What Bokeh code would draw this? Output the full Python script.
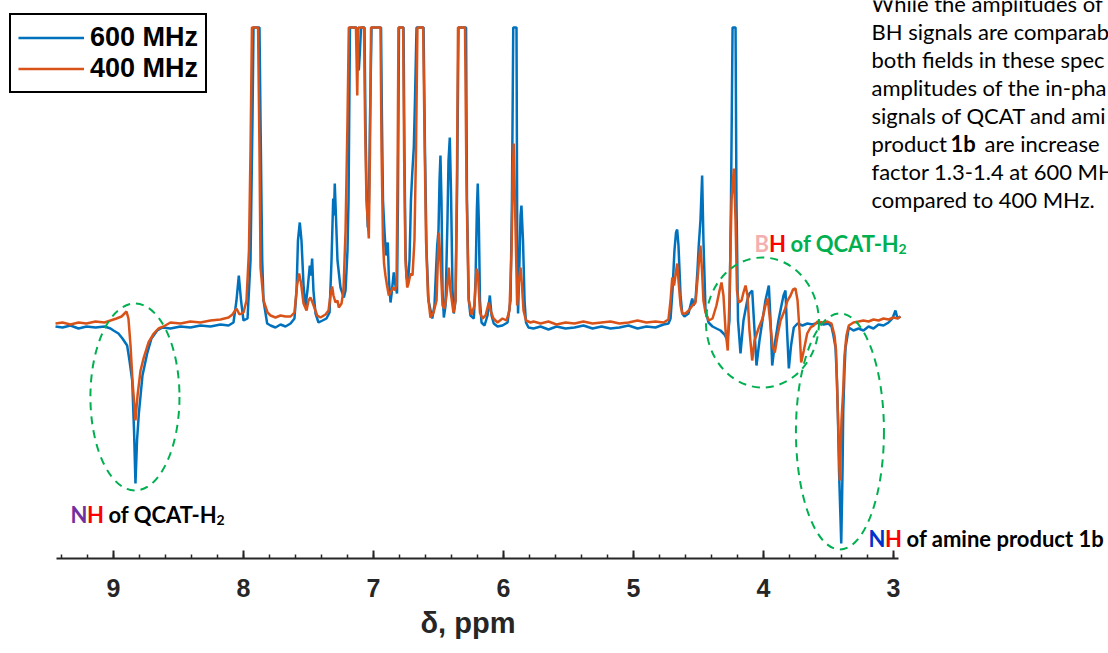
from bokeh.plotting import figure
from bokeh.models import Range1d, FixedTicker, Label, Legend, LegendItem, LinearAxis, Title
from bokeh.embed import file_html
from bokeh.resources import INLINE

# ---------------- data ----------------
# chemical shift (ppm) and intensity (a.u.) of the 600 MHz spectrum
ppm_600 = [9.446, 9.392, 9.331, 9.269, 9.208, 9.138, 9.069, 9.023, 9.000, 8.962, 8.931, 8.895, 8.877, 8.856,
           8.842, 8.831, 8.819, 8.805, 8.777, 8.741, 8.708, 8.664, 8.623, 8.562, 8.485, 8.408, 8.331, 8.254,
           8.177, 8.115, 8.077, 8.054, 8.036, 8.019, 8.000, 7.969, 7.946, 7.931, 7.923, 7.877, 7.869, 7.856,
           7.846, 7.818, 7.792, 7.754, 7.715, 7.677, 7.638, 7.608, 7.592, 7.581, 7.567, 7.554, 7.538, 7.523,
           7.508, 7.490, 7.481, 7.472, 7.462, 7.446, 7.423, 7.392, 7.362, 7.338, 7.323, 7.310, 7.304, 7.298,
           7.285, 7.277, 7.254, 7.228, 7.215, 7.200, 7.192, 7.181, 7.131, 7.119, 7.113, 7.104, 7.096, 7.069,
           7.062, 7.054, 7.044, 7.035, 7.027, 7.015, 6.942, 6.935, 6.927, 6.915, 6.904, 6.890, 6.881, 6.869,
           6.858, 6.844, 6.831, 6.819, 6.812, 6.804, 6.769, 6.762, 6.754, 6.746, 6.735, 6.723, 6.712, 6.702,
           6.696, 6.690, 6.681, 6.669, 6.615, 6.604, 6.592, 6.577, 6.548, 6.531, 6.519, 6.510, 6.500, 6.492,
           6.485, 6.477, 6.469, 6.459, 6.446, 6.431, 6.423, 6.413, 6.404, 6.392, 6.382, 6.369, 6.358, 6.346,
           6.288, 6.281, 6.267, 6.254, 6.228, 6.215, 6.205, 6.198, 6.190, 6.181, 6.169, 6.146, 6.123, 6.105,
           6.092, 6.075, 6.046, 6.008, 5.969, 5.946, 5.935, 5.925, 5.900, 5.894, 5.888, 5.877, 5.869, 5.862,
           5.850, 5.838, 5.827, 5.808, 5.769, 5.715, 5.654, 5.592, 5.523, 5.454, 5.385, 5.315, 5.246, 5.177,
           5.108, 5.038, 4.969, 4.900, 4.831, 4.769, 4.731, 4.715, 4.700, 4.685, 4.673, 4.664, 4.654, 4.638,
           4.625, 4.608, 4.577, 4.562, 4.548, 4.538, 4.523, 4.508, 4.498, 4.485, 4.472, 4.462, 4.446, 4.423,
           4.392, 4.362, 4.331, 4.300, 4.277, 4.262, 4.250, 4.238, 4.215, 4.208, 4.196, 4.177, 4.154, 4.125,
           4.108, 4.087, 4.069, 4.054, 4.031, 4.008, 3.985, 3.959, 3.946, 3.933, 3.915, 3.885, 3.862, 3.846,
           3.831, 3.819, 3.805, 3.788, 3.767, 3.738, 3.700, 3.662, 3.623, 3.577, 3.538, 3.500, 3.477, 3.462,
           3.446, 3.435, 3.428, 3.419, 3.402, 3.392, 3.387, 3.377, 3.369, 3.344, 3.308, 3.269, 3.231, 3.192,
           3.154, 3.115, 3.077, 3.038, 3.008, 2.985, 2.969, 2.946]
int_600 = [-0.01, -0.02, 0.00, -0.03, -0.01, -0.02, -0.01, -0.03, -0.05, -0.08, -0.13, -0.20, -0.35, -0.55,
           -1.05, -1.58, -1.15, -0.88, -0.50, -0.28, -0.13, -0.05, -0.02, -0.03, -0.01, -0.02, 0.00, -0.01,
           0.01, 0.00, 0.03, 0.25, 0.50, 0.25, 0.05, 0.07, 0.65, 2.05, 2.98, 2.98, 2.05, 0.65,
           0.25, 0.02, 0.00, -0.02, 0.01, -0.01, 0.02, 0.07, 0.35, 0.85, 1.03, 0.85, 0.40, 0.19,
           0.35, 0.60, 0.50, 0.67, 0.35, 0.12, 0.03, 0.05, 0.07, 0.13, 0.65, 1.27, 1.10, 1.42,
           0.95, 0.65, 0.38, 0.28, 0.35, 0.75, 1.25, 2.98, 2.98, 2.75, 2.55, 2.75, 2.98, 2.98,
           2.05, 1.35, 0.98, 1.25, 2.05, 2.98, 2.98, 2.05, 1.25, 0.93, 0.70, 0.83, 0.45, 0.23,
           0.35, 0.53, 0.40, 0.32, 1.25, 2.98, 2.98, 1.75, 0.75, 0.48, 0.43, 0.65, 1.25, 1.52,
           1.65, 1.78, 2.25, 2.98, 2.98, 1.75, 0.75, 0.25, 0.07, 0.20, 0.55, 0.80, 0.95, 1.45,
           1.70, 1.25, 0.35, 0.08, 0.20, 1.05, 1.65, 1.88, 1.35, 0.35, 0.12, 0.25, 1.25, 2.98,
           2.98, 1.25, 0.25, 0.10, 0.07, 0.45, 1.15, 1.42, 1.05, 0.25, 0.03, 0.00, 0.10, 0.30,
           0.10, 0.02, -0.01, 0.00, 0.03, 0.25, 1.25, 2.98, 2.98, 0.75, 0.12, 0.65, 1.10, 1.20,
           0.85, 0.25, 0.03, -0.02, -0.03, -0.01, -0.04, -0.01, -0.03, -0.02, 0.00, -0.03, -0.01, -0.03,
           -0.02, 0.00, -0.03, -0.01, -0.02, 0.01, 0.02, 0.07, 0.35, 0.75, 0.93, 0.96, 0.80, 0.30,
           0.12, 0.09, 0.12, 0.20, 0.27, 0.20, 0.25, 0.55, 0.80, 1.05, 1.50, 0.85, 0.15, 0.03,
           -0.01, -0.03, -0.05, -0.09, -0.15, 0.05, 1.25, 2.98, 2.98, 1.25, 0.05, -0.28, 0.05, 0.25,
           0.32, 0.35, -0.05, -0.40, -0.15, 0.05, 0.25, 0.40, 0.05, -0.40, -0.20, 0.05, 0.20, 0.30,
           0.35, -0.05, -0.43, -0.20, -0.02, 0.02, 0.00, 0.02, 0.01, 0.03, 0.01, 0.02, -0.01, -0.10,
           -0.22, -0.55, -0.88, -1.45, -2.18, -1.45, -0.88, -0.45, -0.22, -0.02, -0.05, -0.03, -0.05, -0.01,
           -0.03, 0.01, 0.00, 0.03, 0.07, 0.15, 0.07, 0.09]

# chemical shift (ppm) and intensity (a.u.) of the 400 MHz spectrum
ppm_400 = [9.446, 9.392, 9.331, 9.269, 9.208, 9.138, 9.069, 9.023, 8.977, 8.938, 8.900, 8.885, 8.869, 8.854,
           8.831, 8.815, 8.792, 8.767, 8.731, 8.690, 8.654, 8.615, 8.562, 8.485, 8.408, 8.331, 8.254, 8.177,
           8.115, 8.085, 8.054, 8.031, 8.000, 7.977, 7.958, 7.946, 7.935, 7.888, 7.877, 7.869, 7.846, 7.815,
           7.792, 7.754, 7.715, 7.677, 7.638, 7.608, 7.588, 7.572, 7.558, 7.538, 7.515, 7.500, 7.485, 7.469,
           7.433, 7.408, 7.369, 7.346, 7.331, 7.318, 7.308, 7.292, 7.277, 7.267, 7.246, 7.231, 7.215, 7.200,
           7.190, 7.135, 7.125, 7.117, 7.073, 7.065, 7.054, 7.036, 7.027, 7.019, 6.946, 6.938, 6.927, 6.919,
           6.908, 6.896, 6.882, 6.869, 6.848, 6.835, 6.823, 6.815, 6.808, 6.772, 6.764, 6.754, 6.741, 6.731,
           6.715, 6.700, 6.685, 6.673, 6.662, 6.618, 6.608, 6.596, 6.581, 6.562, 6.538, 6.515, 6.498, 6.485,
           6.469, 6.454, 6.438, 6.421, 6.408, 6.385, 6.369, 6.358, 6.350, 6.296, 6.285, 6.269, 6.246, 6.223,
           6.208, 6.196, 6.181, 6.162, 6.138, 6.113, 6.100, 6.077, 6.046, 6.008, 5.977, 5.954, 5.938, 5.928,
           5.921, 5.912, 5.895, 5.881, 5.869, 5.858, 5.846, 5.827, 5.792, 5.769, 5.715, 5.654, 5.592, 5.523,
           5.454, 5.385, 5.315, 5.246, 5.177, 5.108, 5.038, 4.969, 4.900, 4.831, 4.769, 4.731, 4.715, 4.702,
           4.688, 4.677, 4.664, 4.654, 4.638, 4.625, 4.600, 4.575, 4.546, 4.523, 4.508, 4.496, 4.485, 4.473,
           4.462, 4.446, 4.421, 4.392, 4.362, 4.338, 4.323, 4.308, 4.292, 4.275, 4.262, 4.246, 4.228, 4.215,
           4.204, 4.190, 4.169, 4.154, 4.138, 4.123, 4.108, 4.087, 4.069, 4.036, 4.008, 3.985, 3.967, 3.950,
           3.931, 3.913, 3.892, 3.869, 3.838, 3.815, 3.792, 3.773, 3.754, 3.738, 3.723, 3.710, 3.690, 3.664,
           3.638, 3.613, 3.585, 3.546, 3.508, 3.477, 3.454, 3.442, 3.428, 3.413, 3.400, 3.387, 3.377, 3.362,
           3.344, 3.308, 3.269, 3.231, 3.192, 3.154, 3.115, 3.077, 3.038, 3.000, 2.969, 2.946]
int_400 = [0.02, 0.03, 0.01, 0.03, 0.02, 0.04, 0.03, 0.05, 0.07, 0.09, 0.14, 0.07, -0.20, -0.55,
           -0.95, -0.70, -0.45, -0.32, -0.17, -0.08, -0.03, -0.01, 0.03, 0.02, 0.04, 0.03, 0.05, 0.06,
           0.08, 0.11, 0.17, 0.11, 0.13, 0.25, 0.75, 1.75, 2.98, 2.98, 1.75, 0.58, 0.25, 0.13,
           0.10, 0.08, 0.10, 0.09, 0.09, 0.13, 0.40, 0.52, 0.43, 0.22, 0.15, 0.25, 0.28, 0.23,
           0.10, 0.08, 0.11, 0.15, 0.30, 0.39, 0.30, 0.23, 0.25, 0.18, 0.22, 0.35, 0.95, 2.05,
           2.98, 2.98, 2.30, 2.98, 2.98, 2.05, 1.25, 0.87, 1.75, 2.98, 2.98, 1.75, 0.85, 0.62,
           0.50, 0.40, 0.30, 0.33, 0.38, 0.35, 0.40, 1.45, 2.98, 2.98, 1.65, 0.65, 0.38, 0.42,
           0.52, 0.50, 0.85, 1.75, 2.98, 2.98, 1.95, 0.85, 0.30, 0.08, 0.13, 0.25, 0.93, 0.65,
           0.20, 0.17, 0.30, 0.58, 0.35, 0.13, 0.25, 1.45, 2.98, 2.98, 1.45, 0.27, 0.11, 0.20,
           0.57, 0.50, 0.13, 0.07, 0.10, 0.23, 0.15, 0.07, 0.03, 0.07, 0.05, 0.15, 0.75, 1.55,
           1.82, 1.25, 0.20, 0.45, 0.58, 0.40, 0.15, 0.05, 0.03, 0.04, 0.02, 0.04, 0.01, 0.03,
           0.02, 0.04, 0.02, 0.03, 0.04, 0.02, 0.03, 0.05, 0.03, 0.04, 0.03, 0.06, 0.25, 0.48,
           0.40, 0.50, 0.62, 0.45, 0.20, 0.12, 0.12, 0.15, 0.20, 0.23, 0.45, 0.65, 0.80, 0.55,
           0.25, 0.13, 0.05, 0.07, 0.20, 0.35, 0.43, 0.30, -0.05, -0.25, 0.25, 1.25, 1.57, 1.05,
           0.35, 0.23, 0.25, 0.33, 0.40, 0.30, -0.05, -0.35, -0.15, -0.02, 0.07, 0.20, 0.27, 0.05,
           -0.20, -0.27, -0.10, 0.05, 0.15, 0.25, 0.30, 0.36, 0.37, 0.25, -0.05, -0.37, -0.25, -0.08,
           -0.02, 0.00, 0.04, 0.03, 0.04, 0.02, -0.10, -0.25, -0.88, -1.55, -0.95, -0.65, -0.30, -0.10,
           0.00, 0.03, 0.04, 0.05, 0.04, 0.06, 0.05, 0.07, 0.06, 0.08, 0.07, 0.09]

series_labels = ["600 MHz", "400 MHz"]
series_colors = ["#0072BD", "#D95319"]

x_ticks = [3, 4, 5, 6, 7, 8, 9]
x_minor_ticks = [round(3.0 + 0.2 * i, 1) for i in range(33)]

# annotation ellipses (centre ppm, centre intensity, width ppm, height a.u.)
ell_ppm = [8.835, 4.008, 3.412]
ell_int = [-0.715, 0.03, -1.06]
ell_w = [0.685, 0.869, 0.677]
ell_h = [1.87, 1.30, 2.36]

GREEN = "#00B050"
AXIS_COLOR = "#262626"

# ---------------- figure ----------------
p = figure(width=1108, height=653,
           x_range=Range1d(9.8692, 1.3462), y_range=Range1d(-2.33, 3.25),
           output_backend="svg", toolbar_location=None,
           x_axis_location=None, y_axis_location=None,
           min_border_left=0, min_border_right=0, min_border_top=0, min_border_bottom=95)
p.outline_line_color = None
p.grid.visible = False

xaxis = LinearAxis(bounds=(2.965, 9.435),
                   ticker=FixedTicker(ticks=x_ticks, minor_ticks=x_minor_ticks))
xaxis.axis_line_color = AXIS_COLOR
xaxis.axis_line_width = 2
xaxis.major_tick_line_color = AXIS_COLOR
xaxis.major_tick_line_width = 2
xaxis.major_tick_in = 8
xaxis.major_tick_out = 0
xaxis.minor_tick_line_color = AXIS_COLOR
xaxis.minor_tick_line_width = 1.5
xaxis.minor_tick_in = 4
xaxis.minor_tick_out = 0
xaxis.major_label_text_font = "Liberation Sans"
xaxis.major_label_text_font_style = "bold"
xaxis.major_label_text_font_size = "25px"
xaxis.major_label_text_color = AXIS_COLOR
xaxis.major_label_standoff = 20
p.add_layout(xaxis, "below")

# axis title, placed under the axis at the position it has in the reference
p.add_layout(Title(text="δ, ppm", align="left", offset=420, standoff=10,
                   text_font="Liberation Sans", text_font_style="bold",
                   text_font_size="29px", text_color=AXIS_COLOR), "below")

r600 = p.line(ppm_600, int_600, line_color=series_colors[0], line_width=2.5)
r400 = p.line(ppm_400, int_400, line_color=series_colors[1], line_width=2.5)

p.ellipse(x=ell_ppm, y=ell_int, width=ell_w, height=ell_h, fill_alpha=0,
          line_color=GREEN, line_width=2, line_dash="8 6")

legend = Legend(items=[LegendItem(label=series_labels[0], renderers=[r600]),
                       LegendItem(label=series_labels[1], renderers=[r400])],
                location=(9, 465), margin=0, padding=7, spacing=0,
                border_line_color="black", border_line_width=2, border_line_alpha=1,
                glyph_width=66, glyph_height=29, label_height=29, label_standoff=6,
                label_text_font="Liberation Sans", label_text_font_style="bold",
                label_text_font_size="27px", label_text_color="black",
                background_fill_color="white", background_fill_alpha=1)
p.add_layout(legend, "center")

LATO = "Lato"


def seg(x, y, text, color, dx=0, size="22px", style="bold", font=LATO):
    p.add_layout(Label(x=x, y=y, x_offset=dx, text=text, text_color=color,
                       text_font=font, text_font_size=size, text_font_style=style,
                       text_baseline="alphabetic", text_align="left"))


# NH of QCAT-H2
seg(9.331, -1.89, "N", "#7030A0")
seg(9.331, -1.89, "H", "#FF0000", dx=16.5)
seg(9.331, -1.89, "of QCAT-H", "black", dx=38)
seg(9.331, -1.94, "2", "black", dx=146, size="14px")

# BH of QCAT-H2
seg(4.069, 0.82, "B", "#F4B0B0")
seg(4.069, 0.82, "H", "#FF0000", dx=14.5)
seg(4.069, 0.82, "of QCAT-H", GREEN, dx=36)
seg(4.069, 0.77, "2", GREEN, dx=144, size="14px")

# NH of amine product 1b
seg(3.192, -2.13, "N", "#0033CC")
seg(3.192, -2.13, "H", "#FF0000", dx=16.5)
seg(3.192, -2.13, "of amine product 1b", "black", dx=38)

# explanatory paragraph at the top right (cut by the right edge, as in the reference)
para = ["While the amplitudes of", "BH signals are comparab", "both fields in these spec",
        "amplitudes of the in-pha", "signals of QCAT and ami", None,
        "factor 1.3-1.4 at 600 MH", "compared to 400 MHz."]
para_y = [3.22, 2.94, 2.66, 2.38, 2.10, 1.82, 1.54, 1.26]
for t, yy in zip(para, para_y):
    if t is not None:
        seg(3.169, yy, t, "black", size="22px", style="normal")
seg(3.169, 1.82, "product", "black", size="22px", style="normal")
seg(3.169, 1.82, "1b", "black", dx=79, size="22px", style="bold")
seg(3.169, 1.82, "are increase", "black", dx=113, size="22px", style="normal")

open("out.html", "w").write(file_html(p, INLINE))
